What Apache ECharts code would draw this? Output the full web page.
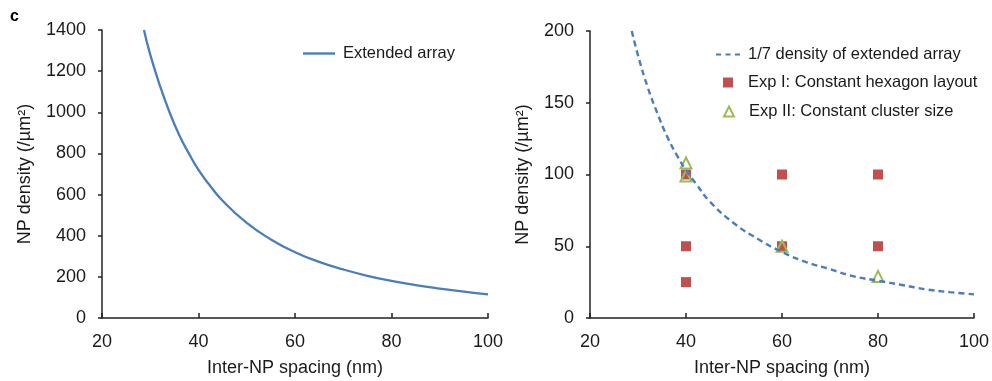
<!DOCTYPE html>
<html>
<head>
<meta charset="utf-8">
<script src="https://cdn.jsdelivr.net/npm/echarts@6/dist/echarts.min.js"></script>
<style>
  html, body { margin: 0; padding: 0; background: #fff; }
  #chart { width: 992px; height: 381px; }
</style>
</head>
<body>
<div id="chart"></div>
<script>
// values
const spacing = [28.7, 30, 32, 34, 36, 38, 40, 42, 45, 50, 55, 60, 65, 70, 75, 80, 85, 90, 95, 100];
const extendedDensity = [1400, 1280, 1130, 1000, 890, 800, 720, 655, 570, 462, 382, 320, 273, 236, 205, 180, 160, 143, 128, 115];
const seventhDensity = [200, 183, 161, 143, 127, 114, 103, 94, 81, 66, 55, 46, 39, 34, 29, 26, 23, 20, 18, 16.5];
const exp1Spacing = [40, 40, 40, 60, 60, 80, 80];
const exp1Density = [100, 50, 25, 100, 50, 100, 50];
const exp2Spacing = [40, 40, 60, 80];
const exp2Density = [108, 99, 50, 29];

const xTitle = 'Inter-NP spacing (nm)';
const yTitle = 'NP density (/µm²)';
const fontFamily = 'Liberation Sans, Arial, sans-serif';
const textColor = '#1a1a1a';
const blue = '#4a7ebb';
const red = '#c0504d';
const green = '#9bbb59';

function pairs(xs, ys) {
  return xs.map((x, i) => [x, ys[i]]);
}

function makeXAxis(gridIndex) {
  return {
    gridIndex: gridIndex,
    type: 'value',
    min: 20, max: 100, interval: 20,
    name: xTitle,
    nameLocation: 'middle',
    nameGap: 41,
    nameTextStyle: { fontSize: 18, color: textColor, fontFamily: fontFamily },
    axisLine: { show: true, onZero: false, lineStyle: { color: '#222', width: 1.5 } },
    axisTick: { show: true, inside: true, length: 5, lineStyle: { color: '#222', width: 1.5 } },
    axisLabel: { fontSize: 18, color: textColor, fontFamily: fontFamily, margin: 15 },
    splitLine: { show: false }
  };
}

function makeYAxis(gridIndex, max, interval, gap) {
  return {
    gridIndex: gridIndex,
    type: 'value',
    min: 0, max: max, interval: interval,
    name: yTitle,
    nameLocation: 'middle',
    nameGap: gap,
    nameTextStyle: { fontSize: 18, color: textColor, fontFamily: fontFamily },
    axisLine: { show: true, lineStyle: { color: '#222', width: 1.5 } },
    axisTick: { show: true, inside: false, length: 4, lineStyle: { color: '#222', width: 1.5 } },
    axisLabel: { fontSize: 18, color: textColor, fontFamily: fontFamily, margin: 16, formatter: v => String(v) },
    splitLine: { show: false }
  };
}

function makeLegend(item, left, top, w, h, pad) {
  return {
    data: [item],
    left: left, top: top,
    padding: 0,
    itemWidth: w, itemHeight: h,
    textStyle: { fontSize: 16.5, color: textColor, fontFamily: fontFamily, padding: [0, 0, 0, pad] }
  };
}

const solidIcon = 'path://M0,0L32,0L32,2.4L0,2.4Z';
const dashIcon = 'path://M0,0h5v2h-5z M9.5,0h5v2h-5z M19,0h5v2h-5z';

const chart = echarts.init(document.getElementById('chart'));

chart.setOption({
  backgroundColor: '#fff',
  animation: false,
  textStyle: { fontFamily: fontFamily },
  graphic: [{
    type: 'text',
    left: 10,
    top: 9,
    style: { text: 'c', fontSize: 16, fontWeight: 'bold', fill: '#000', fontFamily: fontFamily }
  }],
  grid: [
    { left: 102, right: 504, top: 30, bottom: 63, outerBoundsMode: 'none' },
    { left: 590, right: 18, top: 31, bottom: 63, outerBoundsMode: 'none' }
  ],
  legend: [
    makeLegend({ name: 'Extended array', icon: solidIcon }, 303, 45, 32, 2.4, 3),
    makeLegend({ name: '1/7 density of extended array', icon: dashIcon }, 716, 46, 24, 2, 3),
    makeLegend({ name: 'Exp I: Constant hexagon layout', icon: 'rect' }, 723, 74, 10, 10, 10),
    makeLegend({
      name: 'Exp II: Constant cluster size', icon: 'triangle',
      itemStyle: { color: 'rgba(255,255,255,0)', borderColor: green, borderWidth: 2 }
    }, 723, 103, 10, 10, 10)
  ],
  xAxis: [makeXAxis(0), makeXAxis(1)],
  yAxis: [makeYAxis(0, 1400, 200, 68), makeYAxis(1, 200, 50, 58)],
  series: [
    {
      name: 'Extended array',
      type: 'line',
      xAxisIndex: 0, yAxisIndex: 0,
      data: pairs(spacing, extendedDensity),
      smooth: true,
      symbol: 'none',
      lineStyle: { color: blue, width: 2.3 },
      itemStyle: { color: blue }
    },
    {
      name: '1/7 density of extended array',
      type: 'line',
      xAxisIndex: 1, yAxisIndex: 1,
      data: pairs(spacing, seventhDensity),
      smooth: true,
      symbol: 'none',
      lineStyle: { color: blue, width: 2.4, type: [6, 4] },
      itemStyle: { color: blue }
    },
    {
      name: 'Exp I: Constant hexagon layout',
      type: 'scatter',
      xAxisIndex: 1, yAxisIndex: 1,
      data: pairs(exp1Spacing, exp1Density),
      symbol: 'rect',
      symbolSize: 10,
      itemStyle: { color: red, opacity: 1 }
    },
    {
      name: 'Exp II: Constant cluster size',
      type: 'scatter',
      xAxisIndex: 1, yAxisIndex: 1,
      data: pairs(exp2Spacing, exp2Density),
      symbol: 'triangle',
      symbolSize: 11,
      itemStyle: { color: 'rgba(255,255,255,0)', borderColor: green, borderWidth: 2, opacity: 1 }
    }
  ]
});
</script>
</body>
</html>
